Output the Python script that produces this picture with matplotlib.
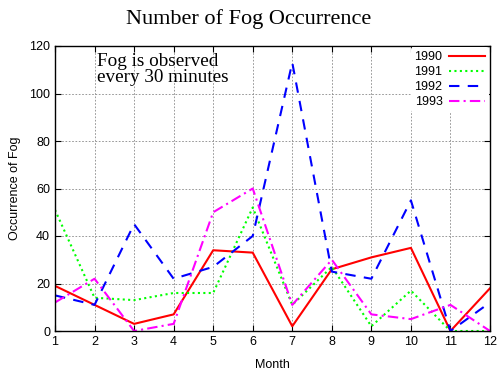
import matplotlib
matplotlib.use('Agg')
import matplotlib.pyplot as plt

months = list(range(1, 13))
fog_1990 = [19, 11, 3, 7, 34, 33, 2, 26, 31, 35, 0, 18]
fog_1991 = [51, 14, 13, 16, 16, 52, 11, 27, 2, 17, 0, 0]
fog_1992 = [15, 11, 45, 22, 27, 40, 113, 25, 22, 55, 0, 12]
fog_1993 = [12, 22, 0, 3, 50, 60, 11, 30, 7, 5, 11, 0]
years = ['1990', '1991', '1992', '1993']

SERIF = 'Liberation Serif'
SANS = 'Liberation Sans'

fig = plt.figure(figsize=(4.98, 3.75), dpi=100)
ax = fig.add_axes([55 / 498, 1 - 331 / 375, 435 / 498, 285 / 375])

styles = [
    dict(color='#ff0000', ls='-'),
    dict(color='#00ff00', ls=(0, (1, 1.6))),
    dict(color='#0000ff', ls=(0, (5, 4))),
    dict(color='#ff00ff', ls=(0, (5, 2, 1, 2))),
]
for vals, lbl, st in zip([fog_1990, fog_1991, fog_1992, fog_1993], years, styles):
    ax.plot(months, vals, lw=1.5, label=lbl, **st)

ax.set_xlim(1, 12)
ax.set_ylim(0, 120)
ax.set_xticks(months)
ax.set_yticks(range(0, 121, 20))
ax.grid(True, color='#888888', ls=(0, (2, 2)), lw=0.6)
ax.tick_params(direction='in', top=True, right=True, length=4, labelsize=9)
for lab in ax.get_xticklabels() + ax.get_yticklabels():
    lab.set_fontfamily(SANS)
for sp in ax.spines.values():
    sp.set_linewidth(1.0)

ax.set_xlabel('Month', fontsize=9, family=SANS, labelpad=8)
ax.set_ylabel('Occurrence of Fog', fontsize=9, family=SANS, labelpad=6)

ax.text(0.097, 0.975, 'Fog is observed\nevery 30 minutes', transform=ax.transAxes,
        ha='left', va='top', fontsize=13.8, family=SERIF, linespacing=0.95)

fig.text(0.5, 0.95, 'Number of Fog Occurrence', ha='center', va='center',
         fontsize=16, family=SERIF)

leg = ax.legend(loc='upper right', markerfirst=False, frameon=True,
                prop={'family': SANS, 'size': 9}, handlelength=2.9,
                borderaxespad=0.1, borderpad=0.3, labelspacing=0.25,
                handletextpad=0.5)
leg.get_frame().set_edgecolor('none')
leg.get_frame().set_facecolor('white')
leg.get_frame().set_alpha(1.0)

fig.savefig('out.png', dpi=100)
